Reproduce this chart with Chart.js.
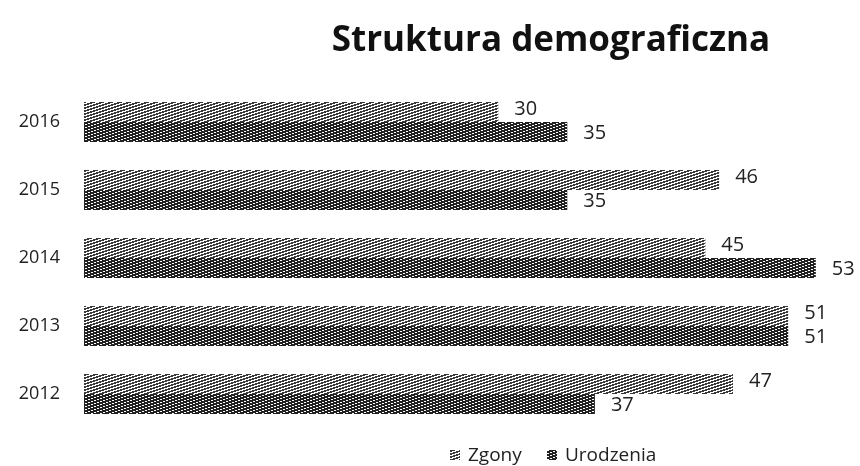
<!DOCTYPE html>
<html lang="pl">
<head>
    <meta charset="UTF-8">
    <title>Struktura demograficzna</title>
    <script src="https://cdn.jsdelivr.net/npm/chart.js"></script>
    <style>
        html, body { margin: 0; padding: 0; background: #fff; }
        #wrap { position: relative; width: 860px; height: 466px; }
    </style>
</head>
<body>
    <div id="wrap"><canvas id="demo_bar-chart" width="860" height="466"></canvas></div>

    <script>
        // Data
        var years = ["2016", "2015", "2014", "2013", "2012"];
        var zgony = [30, 46, 45, 51, 47];
        var urodzenia = [35, 35, 53, 51, 37];
        var xMax = 56.2;

        var FONT = "'Open Sans', 'Noto Sans', sans-serif";

        // hatch pattern: shallow diagonal lines, like the printed scan
        function makePattern(dark, fg) {
            var c = document.createElement("canvas");
            c.width = 9; c.height = 3;
            var g = c.getContext("2d");
            g.fillStyle = "#fff";
            g.fillRect(0, 0, 9, 3);
            g.fillStyle = fg;
            for (var y = 0; y < 3; y++) {
                for (var x = 0; x < 9; x++) {
                    if ((x + 3 * y) % 9 < dark) g.fillRect(x, y, 1, 1);
                }
            }
            return g.createPattern(c, "repeat");
        }

        var patZgony = makePattern(5, "#3a3a3a");
        var patUrodzenia = makePattern(7, "#222");

        // value labels right of each bar + title + legend
        var extras = {
            id: "extras",
            afterDatasetsDraw: function (chart) {
                var ctx = chart.ctx;
                ctx.save();
                ctx.fillStyle = "#222";
                ctx.font = "20px " + FONT;
                ctx.textAlign = "left";
                ctx.textBaseline = "middle";
                chart.data.datasets.forEach(function (ds, i) {
                    var meta = chart.getDatasetMeta(i);
                    meta.data.forEach(function (bar, j) {
                        var dy = i === 0 ? -3 : 1;
                        ctx.fillText(ds.data[j], bar.x + 16, bar.y + dy);
                    });
                });

                // title
                ctx.font = "bold 35px " + FONT;
                ctx.textAlign = "center";
                ctx.fillStyle = "#111";
                ctx.fillText("Struktura demograficzna", 551, 41);

                // legend
                ctx.font = "19px " + FONT;
                ctx.textAlign = "left";
                ctx.textBaseline = "alphabetic";
                var legendX = [450, 547];
                [["Zgony", patZgony], ["Urodzenia", patUrodzenia]].forEach(function (it, k) {
                    var x = legendX[k];
                    ctx.fillStyle = it[1];
                    ctx.fillRect(x, 450, 10, 10);
                    ctx.fillStyle = "#222";
                    ctx.fillText(it[0], x + 18, 461);
                });
                ctx.restore();
            }
        };

        var ctx = document.getElementById("demo_bar-chart");
        var barChart = new Chart(ctx, {
            type: "bar",
            data: {
                labels: years,
                datasets: [
                    {
                        label: "Zgony",
                        data: zgony,
                        backgroundColor: patZgony,
                        borderWidth: 0,
                        categoryPercentage: 0.59,
                        barPercentage: 1.0,
                    },
                    {
                        label: "Urodzenia",
                        data: urodzenia,
                        backgroundColor: patUrodzenia,
                        borderWidth: 0,
                        categoryPercentage: 0.59,
                        barPercentage: 1.0,
                    },
                ]
            },
            options: {
                indexAxis: "y",
                responsive: false,
                animation: false,
                layout: { padding: { top: 88, bottom: 38, left: 0, right: 0 } },
                plugins: {
                    legend: { display: false },
                    title: { display: false },
                    tooltip: { enabled: false },
                },
                scales: {
                    x: {
                        display: false,
                        min: 0,
                        max: xMax,
                    },
                    y: {
                        grid: { display: false, drawTicks: false },
                        border: { display: false },
                        ticks: {
                            color: "#222",
                            font: { family: FONT, size: 18 },
                            padding: 24,
                        },
                        afterFit: function (axis) { axis.width = 84; },
                    }
                }
            },
            plugins: [extras]
        });
    </script>
</body>
</html>
